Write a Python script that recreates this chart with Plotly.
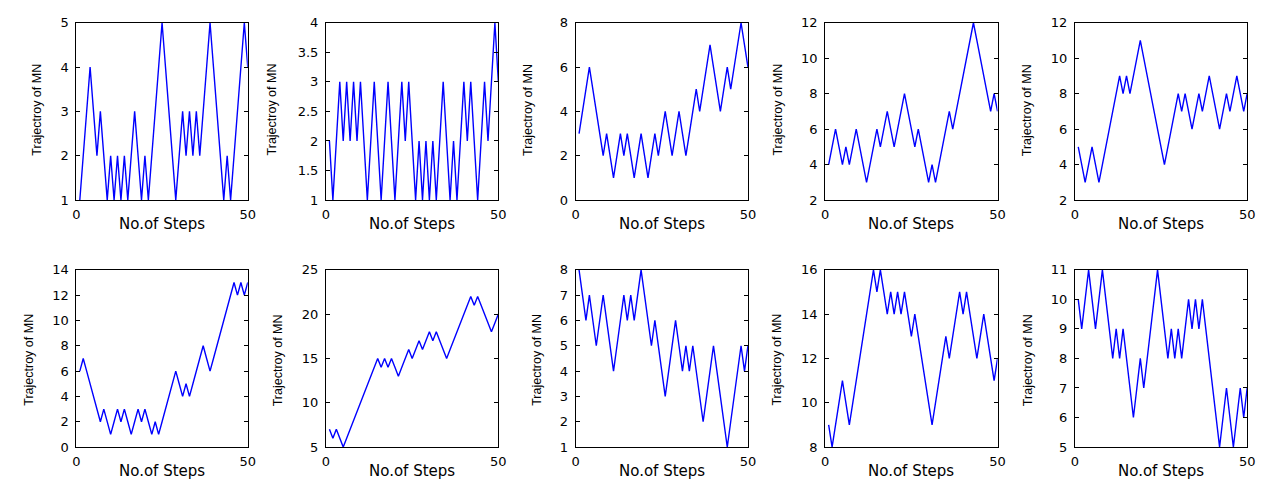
import plotly.graph_objects as go

steps = list(range(1, 51))

mn_1 = [1,2,3,4,3,2,3,2,1,2,1,2,1,2,1,2,3,2,1,2,1,2,3,4,5,4,3,2,1,2,3,2,3,2,3,2,3,4,5,4,3,2,1,2,1,2,3,4,5,4]
mn_2 = [2,1,2,3,2,3,2,3,2,3,2,1,2,3,2,1,2,3,2,1,2,3,2,3,2,1,2,1,2,1,2,1,2,3,2,1,2,1,2,3,2,3,2,1,2,3,2,3,4,3]
mn_3 = [3,4,5,6,5,4,3,2,3,2,1,2,3,2,3,2,1,2,3,2,1,2,3,2,3,4,3,2,3,4,3,2,3,4,5,4,5,6,7,6,5,4,5,6,5,6,7,8,7,6]
mn_4 = [4,5,6,5,4,5,4,5,6,5,4,3,4,5,6,5,6,7,6,5,6,7,8,7,6,5,6,5,4,3,4,3,4,5,6,7,6,7,8,9,10,11,12,11,10,9,8,7,8,7]
mn_5 = [5,4,3,4,5,4,3,4,5,6,7,8,9,8,9,8,9,10,11,10,9,8,7,6,5,4,5,6,7,8,7,8,7,6,7,8,7,8,9,8,7,6,7,8,7,8,9,8,7,8]
mn_6 = [6,7,6,5,4,3,2,3,2,1,2,3,2,3,2,1,2,3,2,3,2,1,2,1,2,3,4,5,6,5,4,5,4,5,6,7,8,7,6,7,8,9,10,11,12,13,12,13,12,13]
mn_7 = [7,6,7,6,5,6,7,8,9,10,11,12,13,14,15,14,15,14,15,14,13,14,15,16,15,16,17,16,17,18,17,18,17,16,15,16,17,18,19,20,21,22,21,22,21,20,19,18,19,20]
mn_8 = [8,7,6,7,6,5,6,7,6,5,4,5,6,7,6,7,6,7,8,7,6,5,6,5,4,3,4,5,6,5,4,5,4,5,4,3,2,3,4,5,4,3,2,1,2,3,4,5,4,5]
mn_9 = [9,8,9,10,11,10,9,10,11,12,13,14,15,16,15,16,15,14,15,14,15,14,15,14,13,14,13,12,11,10,9,10,11,12,13,12,13,14,15,14,15,14,13,12,13,14,13,12,11,12]
mn_10 = [10,9,10,11,10,9,10,11,10,9,8,9,8,9,8,7,6,7,8,7,8,9,10,11,10,9,8,9,8,9,8,9,10,9,10,9,10,9,8,7,6,5,6,7,6,5,6,7,6,7]

series = [mn_1, mn_2, mn_3, mn_4, mn_5, mn_6, mn_7, mn_8, mn_9, mn_10]

y_ranges = [[1, 5], [1, 4], [0, 8], [2, 12], [2, 12],
            [0, 14], [5, 25], [1, 8], [8, 16], [5, 11]]
y_ticks = [[1, 2, 3, 4, 5],
           [1, 1.5, 2, 2.5, 3, 3.5, 4],
           [0, 2, 4, 6, 8],
           [2, 4, 6, 8, 10, 12],
           [2, 4, 6, 8, 10, 12],
           [0, 2, 4, 6, 8, 10, 12, 14],
           [5, 10, 15, 20, 25],
           [1, 2, 3, 4, 5, 6, 7, 8],
           [8, 10, 12, 14, 16],
           [5, 6, 7, 8, 9, 10, 11]]
x_ticks = [0, 50]
x_title = "No.of Steps"
y_title = "Trajectroy of MN"

W, H = 1264, 481
col_px = [(65, 238), (317, 491), (569, 743), (821, 995), (1073, 1247)]
row_px = [(8, 191), (263, 446)]
ytitle_x = [[25, 262, 521, 773, 1025], [17, 268, 530, 772, 1026]]
ytitle_y = [98, 356]
xtitle_y = [216, 471]

fig = go.Figure()
tick_family = "DejaVu Sans, Verdana, sans-serif"
text_family = "Liberation Sans, Arial, sans-serif"
annotations = []
for i, vals in enumerate(series):
    r, c = divmod(i, 5)
    n = i + 1
    xa = "x" if n == 1 else f"x{n}"
    ya = "y" if n == 1 else f"y{n}"
    fig.add_trace(go.Scatter(x=steps, y=vals, mode="lines",
                             line=dict(color="#0000ff", width=1.4),
                             xaxis=xa, yaxis=ya, showlegend=False,
                             hoverinfo="x+y"))
    x0, x1 = col_px[c]
    t, b = row_px[r]
    common = dict(showline=True, linecolor="#000000", linewidth=1,
                  mirror="ticks", ticks="inside", ticklen=4,
                  tickcolor="#000000", tickwidth=1, showgrid=False,
                  zeroline=False,
                  tickfont=dict(family=tick_family, size=13, color="#000000"))
    fig.layout[f"xaxis{'' if n == 1 else n}"] = dict(
        domain=[x0 / W, x1 / W], anchor=ya, range=[0, 50],
        tickvals=x_ticks, ticklabelstandoff=2, **common)
    fig.layout[f"yaxis{'' if n == 1 else n}"] = dict(
        domain=[1 - b / H, 1 - t / H], anchor=xa, range=y_ranges[i],
        tickvals=y_ticks[i], ticklabelstandoff=4, **common)
    annotations.append(dict(text=y_title, x=ytitle_x[r][c] / W, y=1 - ytitle_y[r] / H,
                            xref="paper", yref="paper", showarrow=False,
                            textangle=-90, xanchor="center", yanchor="middle",
                            font=dict(family=text_family, size=12.5, color="#000000")))
    annotations.append(dict(text=x_title, x=(x0 + x1) / 2 / W, y=1 - xtitle_y[r] / H,
                            xref="paper", yref="paper", showarrow=False,
                            xanchor="center", yanchor="middle",
                            font=dict(family=tick_family, size=15, color="#000000")))

fig.update_layout(width=W, height=H, margin=dict(l=0, r=0, t=0, b=0),
                  paper_bgcolor="white", plot_bgcolor="white",
                  annotations=annotations)
fig.write_html("out.html")
